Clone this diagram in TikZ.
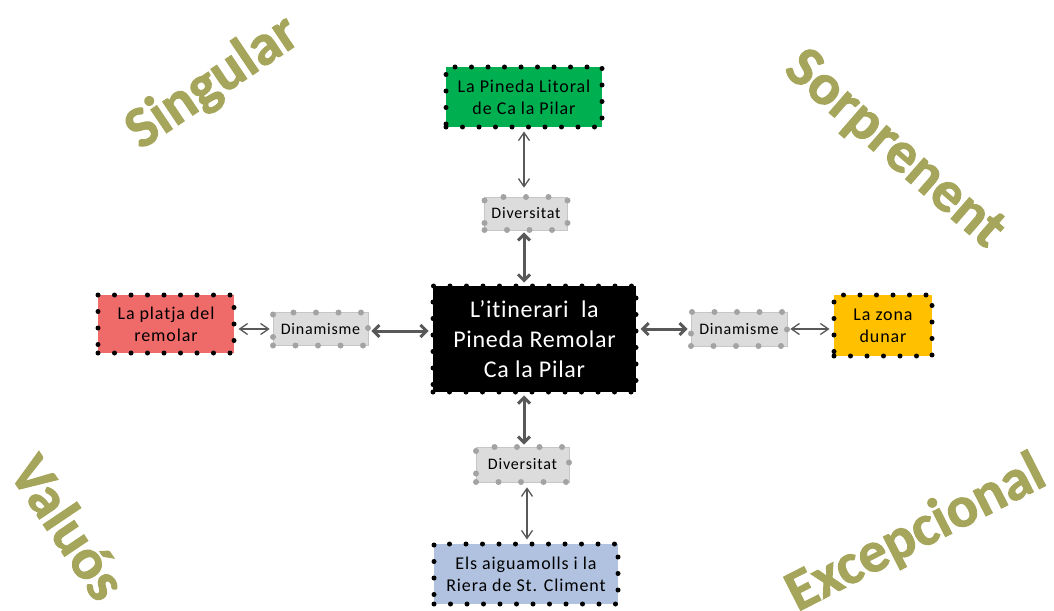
\documentclass[tikz,border=0pt]{standalone}
\usepackage{fontspec}
\setmainfont{Carlito}
\newfontfamily\boxfont[LetterSpace=5,Ligatures=NoCommon]{Carlito}
\newfontfamily\mainboxfont[LetterSpace=3,Ligatures=NoCommon]{Carlito}
\newfontfamily\wordfont[BoldFeatures={FakeBold=1.6}]{Carlito}
\usetikzlibrary{arrows.meta}
\definecolor{olivew}{HTML}{A6A55C}
\definecolor{bgreen}{HTML}{00B050}
\definecolor{bred}{HTML}{EF6B69}
\definecolor{byellow}{HTML}{FFC000}
\definecolor{bblue}{HTML}{B0C2DF}
\definecolor{bgray}{HTML}{DCDCDC}
\definecolor{dotgray}{HTML}{A3A3A3}
\definecolor{arrowgray}{HTML}{595959}
\tikzset{
  dotbox/.style={fill=#1, draw=black, line width=5pt, dash pattern=on 0pt off 16.5pt,
    line cap=round, inner sep=0pt, align=center, text=black,
    font=\boxfont\fontsize{18}{22}\selectfont},
  centrebox/.style={dotbox=black, text=white, minimum width=203pt, minimum height=106pt,
    font=\mainboxfont\fontsize{24}{30}\selectfont},
  graybox/.style={fill=bgray, draw=gray!45, line width=0.6pt, inner sep=0pt,
    font=\boxfont\fontsize{16}{19}\selectfont,
    postaction={draw=dotgray, line width=6pt, dash pattern=on 0pt off 22.5pt, line cap=round}},
  thickarrow/.style={draw=arrowgray, line width=3pt,
    {Straight Barb[length=6pt,width=12pt]}-{Straight Barb[length=6pt,width=12pt]}},
  thinarrow/.style={draw=arrowgray, line width=1.3pt,
    {Straight Barb[length=8pt,width=11pt]}-{Straight Barb[length=8pt,width=11pt]}},
  cornerword/.style={text=olivew, font=\wordfont\bfseries\fontsize{58}{64}\selectfont, inner sep=0pt}
}
\begin{document}
\begin{tikzpicture}[x=1pt,y=-1pt]
\useasboundingbox (0,0) rectangle (1054,610);
% corner words
\node[cornerword, rotate=34] (w1) at (213,83) {Singular};
\node[cornerword, rotate=-41] (w2) at (894,150) {Sorprenent};
\node[cornerword, rotate=-56] (w3) at (69,527) {Valuós};
\node[cornerword, rotate=27] (w4) at (916,534) {Excepcional};
% boxes
\node[centrebox] (centre) at (534.5,339) {L’itinerari\ \ la\\Pineda Remolar\\Ca la Pilar};
\node[dotbox=bgreen, minimum width=156pt, minimum height=60pt] (green) at (524,97) {La Pineda Litoral\\de Ca la Pilar};
\node[dotbox=bred, minimum width=136pt, minimum height=58pt] (red) at (166,324) {La platja del\\remolar};
\node[dotbox=byellow, minimum width=98pt, minimum height=61pt] (yellow) at (883,325.5) {La zona\\dunar};
\node[dotbox=bblue, minimum width=184pt, minimum height=60pt] (blue) at (526,574) {Els aiguamolls i la\\Riera de St. Climent};
\node[graybox, minimum width=83pt, minimum height=33pt] (divtop) at (526,213.5) {Diversitat};
\node[graybox, minimum width=93pt, minimum height=35pt] (divbot) at (522.5,464.5) {Diversitat};
\node[graybox, minimum width=95pt, minimum height=33pt] (dinl) at (320.5,329) {Dinamisme};
\node[graybox, minimum width=96pt, minimum height=34pt] (dinr) at (739,329) {Dinamisme};
% thick connectors
\draw[thickarrow, shorten <=2pt, shorten >=1pt] ([xshift=-2pt]divtop.south) -- ([xshift=-2pt]divtop.south |- centre.north);
\draw[thickarrow, shorten <=1pt, shorten >=2pt] ([xshift=1.5pt]divbot.north |- centre.south) -- ([xshift=1.5pt]divbot.north);
\draw[thickarrow, shorten <=3pt, shorten >=2pt] ([yshift=-2pt]dinl.east) -- ([yshift=-2pt]dinl.east -| centre.west);
\draw[thickarrow, shorten <=2pt, shorten >=3pt] (dinr.west -| centre.east) -- (dinr.west);
% thin connectors
\draw[thinarrow, shorten <=2pt, shorten >=9pt] (green.south) -- (green.south |- divtop.north);
\draw[thinarrow, shorten <=5pt, shorten >=2pt] ([xshift=4.5pt]divbot.south) -- ([xshift=4.5pt]divbot.south |- blue.north);
\draw[thinarrow, shorten <=2pt, shorten >=3pt] (red.east |- dinl.west) -- (dinl.west);
\draw[thinarrow, shorten <=3pt, shorten >=2pt] (dinr.east) -- (dinr.east -| yellow.west);
\end{tikzpicture}
\end{document}
